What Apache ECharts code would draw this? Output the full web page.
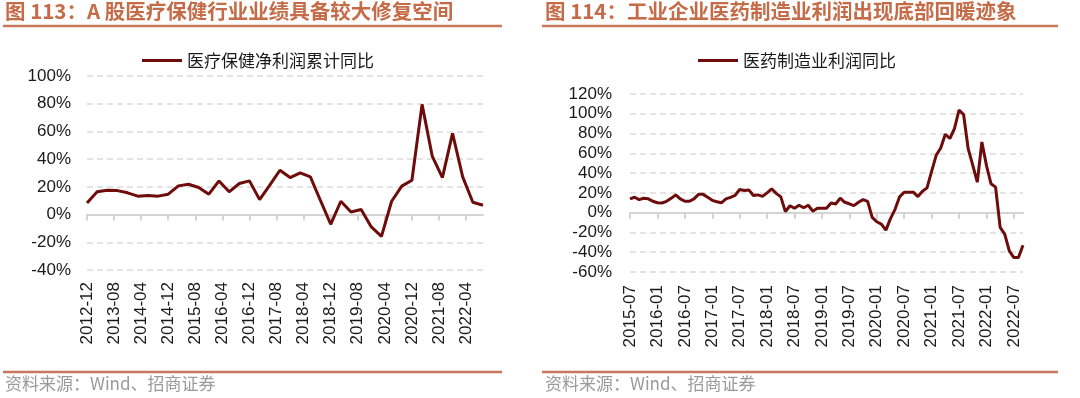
<!DOCTYPE html>
<html>
<head>
<meta charset="utf-8">
<script src="https://cdn.jsdelivr.net/npm/echarts@6/dist/echarts.min.js"></script>
<style>
  html, body { margin: 0; padding: 0; background: #fff; }
  #chart { width: 1080px; height: 398px; }
</style>
</head>
<body>
<div id="chart"></div>
<script>
// 图113 A股医疗保健净利润累计同比（季度）
const leftDates = [
  '2012-12', '2013-03', '2013-06', '2013-09', '2013-12', '2014-03', '2014-06', '2014-09',
  '2014-12', '2015-03', '2015-06', '2015-09', '2015-12', '2016-03', '2016-06', '2016-09',
  '2016-12', '2017-03', '2017-06', '2017-09', '2017-12', '2018-03', '2018-06', '2018-09',
  '2018-12', '2019-03', '2019-06', '2019-09', '2019-12', '2020-03', '2020-06', '2020-09',
  '2020-12', '2021-03', '2021-06', '2021-09', '2021-12', '2022-03', '2022-06', '2022-09',
]
const leftValues = [
  8.4, 16.4, 17.6, 17.3, 15.7, 13.3, 13.7, 13.3,
  14.7, 20.7, 21.9, 19.5, 14.7, 24.3, 16.4, 22.4,
  24.3, 10.8, 21.2, 32.0, 26.7, 30.1, 27.2, 10.0,
  -7.0, 9.6, 1.9, 3.6, -8.9, -15.7, 9.6, 20.5,
  24.8, 79.5, 42.2, 26.7, 58.6, 27.2, 8.9, 6.7,
]
// 图114 医药制造业利润同比（月度，从2015-07起）
const rightStart = '2015-07'
const rightValues = [
  13.9, 15.6, 13.2, 14.6, 14.0, 11.5, 10.0, 9.8, 11.5, 14.5, 18.0, 14.0,
  11.5, 11.5, 14.0, 18.5, 18.5, 15.5, 12.5, 11.0, 10.0, 13.9, 15.5, 17.5,
  23.4, 22.4, 23.0, 17.3, 18.0, 16.5, 20.0, 24.0, 19.5, 16.0, 1.0, 7.0,
  4.5, 7.5, 5.0, 7.5, 1.5, 4.4, 4.4, 4.4, 9.8, 8.8, 14.6, 10.5,
  9.0, 7.1, 10.5, 13.2, 11.5, -4.7, -9.2, -11.5, -17.6, -6.0, 3.4, 16.0,
  20.7, 20.7, 20.7, 16.3, 21.7, 25.1, 41.7, 58.0, 65.4, 79.3, 75.0, 85.0,
  103.7, 99.3, 64.7, 48.0, 30.8, 71.5, 47.8, 29.2, 25.8, -14.9, -21.7, -38.6,
  -45.4, -45.4, -32.9,
]
const leftTicks = [-40, -20, 0, 20, 40, 60, 80, 100]
const rightTicks = [-60, -40, -20, 0, 20, 40, 60, 80, 100, 120]

const lineColor = '#6e0b0b'
const titleColor = '#c56b47'
const ruleColor = '#c8785a'
const textColor = '#1a1a1a'

// 月份序列
function monthsBetween(start, count) {
  let [y, m] = start.split('-').map(Number)
  let out = []
  for (let i = 0; i < count; i++) {
    out.push(y + '-' + String(m).padStart(2, '0'))
    m++
    if (m > 12) { m = 1; y++ }
  }
  return out
}
function monthDiff(a, b) {
  let [ya, ma] = a.split('-').map(Number)
  let [yb, mb] = b.split('-').map(Number)
  return (yb - ya) * 12 + (mb - ma)
}

let leftMonths = monthsBetween(leftDates[0], monthDiff(leftDates[0], leftDates[leftDates.length - 1]) + 1)
let leftSeries = leftMonths.map(() => null)
leftDates.forEach((d, i) => { leftSeries[leftMonths.indexOf(d)] = leftValues[i] })

let rightMonths = monthsBetween(rightStart, rightValues.length)

function labelAxis(gridIndex, data, step, margin) {
  return {
    type: 'category', gridIndex, data, boundaryGap: false, position: 'bottom',
    axisLine: { show: false, onZero: false },
    axisTick: { show: false },
    axisLabel: {
      rotate: 90, margin, color: textColor, fontSize: 17,
      fontFamily: 'Liberation Sans, Arial, sans-serif',
      interval: (idx) => idx % step === 0,
    },
    splitLine: { show: false },
  }
}
function zeroAxis(gridIndex, data, step) {
  return {
    type: 'category', gridIndex, data, boundaryGap: false, position: 'top',
    axisLine: { show: true, onZero: true, lineStyle: { color: '#d4d4d4', width: 2 } },
    axisTick: { show: true, inside: true, length: 6, interval: (idx) => idx % step === 0,
      lineStyle: { color: '#d4d4d4', width: 2 } },
    axisLabel: { show: false },
    splitLine: { show: false },
  }
}
function valueAxis(gridIndex, ticks, margin) {
  return {
    type: 'value', gridIndex,
    min: ticks[0], max: ticks[ticks.length - 1], interval: 20,
    axisLine: { show: false }, axisTick: { show: false },
    axisLabel: {
      formatter: '{value}%', margin, color: textColor, fontSize: 17,
      fontFamily: 'Liberation Sans, Arial, sans-serif',
    },
    splitLine: { lineStyle: { color: '#e3e3e3', width: 2, type: [6, 4] } },
  }
}

let myChart = echarts.init(document.getElementById('chart'))
myChart.setOption({
  animation: false,
  backgroundColor: '#fff',
  textStyle: { fontFamily: 'Noto Sans CJK SC, sans-serif' },
  grid: [
    { left: 87, top: 76, width: 396, height: 194 },
    { left: 630, top: 94, width: 393, height: 178 },
  ],
  legend: [
    {
      left: 137, top: 47, data: ['医疗保健净利润累计同比'],
      icon: 'rect', itemWidth: 40, itemHeight: 3,
      textStyle: { color: textColor, fontSize: 17, fontFamily: 'Noto Sans CJK SC' },
    },
    {
      left: 693, top: 47, data: ['医药制造业利润同比'],
      icon: 'rect', itemWidth: 40, itemHeight: 3,
      textStyle: { color: textColor, fontSize: 17, fontFamily: 'Noto Sans CJK SC' },
    },
  ],
  xAxis: [
    labelAxis(0, leftMonths, 8, 12),
    zeroAxis(0, leftMonths, 8),
    labelAxis(1, rightMonths, 6, 13),
    zeroAxis(1, rightMonths, 6),
  ],
  yAxis: [
    valueAxis(0, leftTicks, 16),
    valueAxis(1, rightTicks, 18),
  ],
  series: [
    {
      name: '医疗保健净利润累计同比', type: 'line', xAxisIndex: 0, yAxisIndex: 0,
      data: leftSeries, connectNulls: true, showSymbol: false,
      itemStyle: { color: lineColor }, lineStyle: { color: lineColor, width: 3 },
    },
    {
      name: '医药制造业利润同比', type: 'line', xAxisIndex: 2, yAxisIndex: 1,
      data: rightValues, showSymbol: false,
      itemStyle: { color: lineColor }, lineStyle: { color: lineColor, width: 3 },
    },
  ],
  graphic: [
    { type: 'text', left: 5, top: 1, style: { text: '图 113：A 股医疗保健行业业绩具备较大修复空间',
      fill: titleColor, font: 'bold 20.5px "Noto Sans CJK SC"' } },
    { type: 'text', left: 545, top: 1, style: { text: '图 114：工业企业医药制造业利润出现底部回暖迹象',
      fill: titleColor, font: 'bold 20.5px "Noto Sans CJK SC"' } },
    { type: 'line', shape: { x1: 3, y1: 26, x2: 502, y2: 26 }, style: { stroke: ruleColor, lineWidth: 2.5 } },
    { type: 'line', shape: { x1: 542, y1: 26, x2: 1058, y2: 26 }, style: { stroke: ruleColor, lineWidth: 2.5 } },
    { type: 'line', shape: { x1: 3, y1: 372, x2: 502, y2: 372 }, style: { stroke: ruleColor, lineWidth: 2.5 } },
    { type: 'line', shape: { x1: 542, y1: 372, x2: 1058, y2: 372 }, style: { stroke: ruleColor, lineWidth: 2.5 } },
    { type: 'text', left: 5, top: 375, style: { text: '资料来源：Wind、招商证券',
      fill: '#9a9a9a', font: '17px "Noto Sans CJK SC"' } },
    { type: 'text', left: 545, top: 375, style: { text: '资料来源：Wind、招商证券',
      fill: '#9a9a9a', font: '17px "Noto Sans CJK SC"' } },
  ],
})
</script>
</body>
</html>
